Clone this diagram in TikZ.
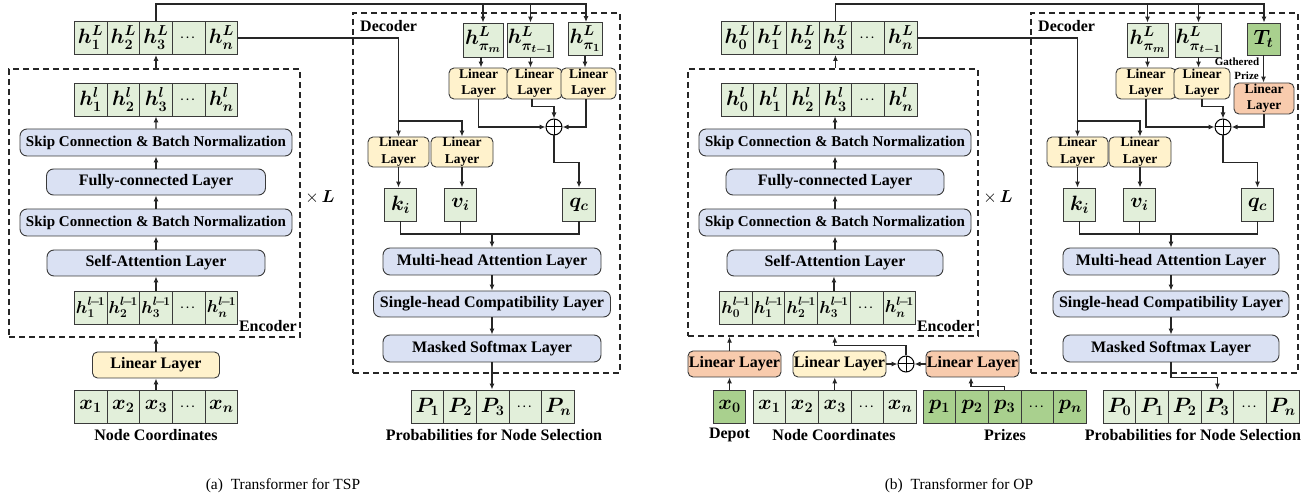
\documentclass[tikz,border=0pt]{standalone}
\usepackage{amsmath}
\usepackage{fontspec}
\setmainfont{Liberation Serif}
\usetikzlibrary{arrows.meta,calc}
\definecolor{cg}{HTML}{E2EFDA}
\definecolor{dg}{HTML}{A9D08E}
\definecolor{bl}{HTML}{DAE1F3}
\definecolor{yl}{HTML}{FFF2CC}
\definecolor{orng}{HTML}{F8CBAD}
\definecolor{bord}{HTML}{3A3A3A}
\newcommand{\mydots}{\mbox{\fontsize{11}{11}\selectfont$\cdots$}}
\newcommand{\lm}{l\!-\!1}
\tikzset{
  cell/.style={draw=bord, fill=cg, line width=0.9pt, minimum width=32.7pt, minimum height=33pt, inner sep=0pt, font=\boldmath\fontsize{21}{21}\selectfont},
  cellm/.style={cell, font=\boldmath\fontsize{18.5}{18.5}\selectfont},
  dcell/.style={cell, fill=dg},
  blk/.style={draw=bord, fill=bl, line width=0.9pt, rounded corners=7pt, inner sep=0pt, minimum height=27pt, font=\bfseries\fontsize{16}{16}\selectfont},
  lin/.style={draw=bord, fill=yl, line width=0.9pt, rounded corners=5pt, inner sep=0pt, align=center, minimum height=31pt, font=\bfseries\fontsize{13.5}{16.5}\selectfont},
  lino/.style={lin, fill=orng},
  linb/.style={lin, minimum height=26pt, minimum width=93pt, font=\bfseries\fontsize{16}{16}\selectfont},
  linbo/.style={linb, fill=orng},
  opl/.style={circle, draw=black, fill=white, line width=1pt, minimum size=16pt, inner sep=0pt,
    path picture={\draw[line width=1pt] (path picture bounding box.north) -- (path picture bounding box.south) (path picture bounding box.west) -- (path picture bounding box.east);}},
  con/.style={draw=black!85, line width=1.1pt},
  arr/.style={con, -{Latex[length=6pt,width=5pt]}},
  dbox/.style={draw=black!85, dash pattern=on 6pt off 4pt, line width=1.5pt, inner sep=0pt},
  lab/.style={font=\bfseries\fontsize{16}{16}\selectfont, inner sep=0pt},
  captxt/.style={font=\fontsize{15.5}{15.5}\selectfont, inner sep=0pt},
}
\begin{document}
\begin{tikzpicture}[x=1pt,y=-1pt]
\useasboundingbox (0,0) rectangle (1315,502);

%%%%%%%%%%%%%%%%%%%% (a) TSP %%%%%%%%%%%%%%%%%%%%
\node[dbox, minimum width=291pt, minimum height=268pt] (aenc) at (154.5,203) {};
\node[dbox, minimum width=267pt, minimum height=360pt] (adec) at (486.5,193) {};
\node[lab, anchor=east] (aenclab) at (297,326) {Encoder};
\node[lab, anchor=west] (adeclab) at (360,26) {Decoder};
\node[inner sep=0pt, font=\fontsize{16}{16}\selectfont] (aL) at (320,197) {$\times\,\boldsymbol{L}$};

\foreach \i/\t in {1/h^L_1,2/h^L_2,3/h^L_3,4/\mydots,5/h^L_n}
  \node[cell] (aL\i) at ({74.25+32.7*(\i-0.5)},38) {$\t$};
\foreach \i/\t in {1/h^l_1,2/h^l_2,3/h^l_3,4/\mydots,5/h^l_n}
  \node[cell] (aLl\i) at ({74.25+32.7*(\i-0.5)},99.5) {$\t$};
\foreach \i/\t in {1/h^{\lm}_1,2/h^{\lm}_2,3/h^{\lm}_3,4/\mydots,5/h^{\lm}_n}
  \node[cellm] (aLm\i) at ({74.25+32.7*(\i-0.5)},307.5) {$\t$};
\foreach \i/\t in {1/x_1,2/x_2,3/x_3,4/\mydots,5/x_n}
  \node[cell] (ax\i) at ({74.25+32.7*(\i-0.5)},406.5) {$\t$};
\foreach \i/\t in {1/P_1,2/P_2,3/P_3,4/\mydots,5/P_n}
  \node[cell] (aP\i) at ({411+32.7*(\i-0.5)},406.5) {$\t$};

\node[blk, minimum width=272pt, font=\bfseries\fontsize{15}{15}\selectfont] (ask1) at (156,142.5) {Skip Connection \& Batch Normalization};
\node[blk, minimum width=219pt, minimum height=26pt] (afc) at (156,182) {Fully-connected Layer};
\node[blk, minimum width=272pt, font=\bfseries\fontsize{15}{15}\selectfont] (ask2) at (156,222.5) {Skip Connection \& Batch Normalization};
\node[blk, minimum width=218pt, minimum height=26pt] (asa) at (156,263) {Self-Attention Layer};
\node[linb, minimum width=127pt] (alin) at (156,365) {Linear Layer};
\node[lab] (anc) at (156,435) {Node Coordinates};

\node[cell, minimum width=40pt, minimum height=34pt] (ahpm) at (483,40) {$h^L_{\pi_m}$};
\node[cell, minimum width=37pt, minimum height=34pt] (ahpt) at (530.5,40) {$h^L_{\pi_{t-1}}$};
\node[cell, minimum width=34pt, minimum height=33pt] (ahp1) at (585,39) {$h^L_{\pi_1}$};
\node[lin, minimum width=59pt] (all1) at (478.5,83.5) {Linear\\Layer};
\node[lin, minimum width=55pt] (all2) at (534.5,83.5) {Linear\\Layer};
\node[lin, minimum width=55pt] (all3) at (588.5,83.5) {Linear\\Layer};
\node[opl] (aop) at (554,127) {};
\node[lin, minimum width=61pt, minimum height=30pt] (aLLa) at (398.5,152) {Linear\\Layer};
\node[lin, minimum width=62pt, minimum height=30pt] (aLLb) at (462,152) {Linear\\Layer};
\node[cell] (ak) at (400.5,204.5) {$k_i$};
\node[cell] (av) at (460.5,204.5) {$v_i$};
\node[cell] (aq) at (579,204.5) {$q_c$};
\node[blk, minimum width=218pt] (amha) at (492,261.5) {Multi-head Attention Layer};
\node[blk, minimum width=237pt, minimum height=26pt] (ash) at (492,304) {Single-head Compatibility Layer};
\node[blk, minimum width=218pt] (ams) at (492,348.5) {Masked Softmax Layer};
\node[lab] (apns) at (494,435) {Probabilities for Node Selection};

% connectors (a)
\draw[arr] (ax3.north) -- (ax3.north |- alin.south);
\draw[arr] (alin.north) -- (alin.north |- aenc.south);
\draw[arr] (aLm3.north) -- (aLm3.north |- asa.south);
\draw[arr] (asa.north) -- (ask2.south);
\draw[arr] (ask2.north) -- (afc.south);
\draw[arr] (afc.north) -- (ask1.south);
\draw[arr] (ask1.north) -- (aLl3.south);
\draw[arr] (aL3.south |- aenc.north) -- (aL3.south);
\coordinate (atop) at (586,4);
\draw[arr] (aL3.north) |- (atop) -- (atop |- ahp1.north);
\draw[arr] (ahpm.north |- atop) -- (ahpm.north);
\draw[arr] (ahpt.north |- atop) -- (ahpt.north);
\draw[arr] (aL5.east) -| (aLLa.north);
\coordinate (abr) at (398.5,121);
\draw[arr] (abr) -| (aLLb.north);
\draw[arr] ([xshift=-2pt]ahpm.south) -- ([xshift=-2pt]ahpm.south |- all1.north);
\draw[arr] (ahpt.south) -- (ahpt.south |- all2.north);
\draw[arr] (ahp1.south) -- (ahp1.south |- all3.north);
\draw[arr] (all1.south) |- (aop.west);
\draw[arr] ([xshift=-2.5pt]all2.south) |- ($(aop.north)+(0,-12)$) -- (aop.north);
\draw[arr] ([xshift=-2.5pt]all3.south) |- (aop.east);
\draw[arr] (aop.south) |- ($(aq.north)+(0,-25)$) -- (aq.north);
\draw[arr] (aLLa.south) -- (aLLa.south |- ak.north);
\draw[arr] (aLLb.south) -- (aLLb.south |- av.north);
\coordinate (ajoin) at (492,234);
\draw[con] (ak.south) |- (ajoin);
\draw[con] (aq.south) |- (ajoin);
\draw[con] (av.south) -- (av.south |- ajoin);
\draw[arr] (ajoin) -- (amha.north);
\draw[arr] (amha.south) -- (ash.north);
\draw[arr] (ash.south) -- (ams.north);
\draw[arr] (ams.south) -- (ams.south |- aP3.north);

%%%%%%%%%%%%%%%%%%%% (b) OP %%%%%%%%%%%%%%%%%%%%
\node[dbox, minimum width=290pt, minimum height=267pt] (benc) at (833,202.5) {};
\node[dbox, minimum width=267pt, minimum height=360pt] (bdec) at (1164.5,193) {};
\node[lab, anchor=east] (benclab) at (975,326) {Encoder};
\node[lab, anchor=west] (bdeclab) at (1038,26) {Decoder};
\node[inner sep=0pt, font=\fontsize{16}{16}\selectfont] (bLx) at (998,197) {$\times\,\boldsymbol{L}$};

\foreach \i/\t in {1/h^L_0,2/h^L_1,3/h^L_2,4/h^L_3,5/\mydots,6/h^L_n}
  \node[cell] (bL\i) at ({721+32.7*(\i-0.5)},38) {$\t$};
\foreach \i/\t in {1/h^l_0,2/h^l_1,3/h^l_2,4/h^l_3,5/\mydots,6/h^l_n}
  \node[cell] (bLl\i) at ({721+32.7*(\i-0.5)},99.5) {$\t$};
\foreach \i/\t in {1/h^{\lm}_0,2/h^{\lm}_1,3/h^{\lm}_2,4/h^{\lm}_3,5/\mydots,6/h^{\lm}_n}
  \node[cellm] (bLm\i) at ({719.5+32.7*(\i-0.5)},307.5) {$\t$};
\foreach \i/\t in {1/x_1,2/x_2,3/x_3,4/\mydots,5/x_n}
  \node[cell] (bx\i) at ({753+32.7*(\i-0.5)},406.5) {$\t$};
\foreach \i/\t in {1/p_1,2/p_2,3/p_3,4/\mydots,5/p_n}
  \node[dcell] (bp\i) at ({923+32.7*(\i-0.5)},406.5) {$\t$};
\foreach \i/\t in {1/P_0,2/P_1,3/P_2,4/P_3,5/\mydots,6/P_n}
  \node[cell] (bP\i) at ({1103+32.7*(\i-0.5)},406.5) {$\t$};
\node[dcell] (bx0) at (729.5,406.5) {$x_0$};

\node[blk, minimum width=272pt, font=\bfseries\fontsize{15}{15}\selectfont] (bsk1) at (835,142.5) {Skip Connection \& Batch Normalization};
\node[blk, minimum width=218pt, minimum height=26pt] (bfc) at (835,182) {Fully-connected Layer};
\node[blk, minimum width=272pt, font=\bfseries\fontsize{15}{15}\selectfont] (bsk2) at (835,222.5) {Skip Connection \& Batch Normalization};
\node[blk, minimum width=216pt, minimum height=26pt] (bsa) at (835,263) {Self-Attention Layer};

\node[linbo] (blld) at (734.5,364) {Linear Layer};
\node[linb] (blln) at (839.5,364) {Linear Layer};
\node[opl] (bop) at (906,364) {};
\node[linbo] (bllp) at (972.5,364) {Linear Layer};
\node[lab] (bdep) at (729.5,435) {Depot};
\node[lab] (bnc) at (834,435) {Node Coordinates};
\node[lab] (bpr) at (1005,435) {Prizes};

\node[cell, minimum width=41pt, minimum height=34pt] (bhpm) at (1147.5,40) {$h^L_{\pi_m}$};
\node[cell, minimum width=37pt, minimum height=34pt] (bhpt) at (1198.5,40) {$h^L_{\pi_{t-1}}$};
\node[dcell, minimum width=33pt, minimum height=32pt] (bT) at (1263.5,39) {$T_t$};
\node[lin, minimum width=60pt] (bll1) at (1146,83.5) {Linear\\Layer};
\node[lin, minimum width=56pt] (bll2) at (1202,83.5) {Linear\\Layer};
\node[lino, minimum width=60pt] (bllT) at (1264,98.5) {Linear\\Layer};
\node[font=\bfseries\fontsize{11}{11}\selectfont, inner sep=0pt] (bgath) at (1237,62) {Gathered};
\node[font=\bfseries\fontsize{11}{11}\selectfont, inner sep=0pt, anchor=east] (bprz) at (1259,76) {Prize};
\node[opl] (bop2) at (1223,127) {};
\node[lin, minimum width=61pt, minimum height=30pt] (bLLa) at (1077.5,152) {Linear\\Layer};
\node[lin, minimum width=62pt, minimum height=30pt] (bLLb) at (1140,152) {Linear\\Layer};
\node[cell] (bk) at (1079.5,204.5) {$k_i$};
\node[cell] (bv) at (1139.5,204.5) {$v_i$};
\node[cell] (bq) at (1257.5,204.5) {$q_c$};
\node[blk, minimum width=216pt] (bmha) at (1171,261.5) {Multi-head Attention Layer};
\node[blk, minimum width=236pt, minimum height=26pt] (bsh) at (1171,304) {Single-head Compatibility Layer};
\node[blk, minimum width=216pt] (bms) at (1171,348.5) {Masked Softmax Layer};
\node[lab] (bpns) at (1193,435) {Probabilities for Node Selection};

% connectors (b)
\draw[arr] (bx0.north) -- (bx0.north |- blld.south);
\draw[arr] (bx0.north |- blld.north) -- (bx0.north |- benc.south);
\draw[arr] (bx3.north) -- (bx3.north |- blln.south);
\draw[arr] (blln.east) -- (bop.west);
\draw[arr] (bllp.west) -- (bop.east);
\draw[arr] (bop.north) |- ($(bx3.north |- bop.north)+(0,-10)$) -- (bx3.north |- benc.south);
\draw[arr] (bp3.north) |- ($(bllp.south)+(-1.5,9)$) -- ([xshift=-1.5pt]bllp.south);
\draw[arr] (bLm4.north) -- (bLm4.north |- bsa.south);
\draw[arr] (bsa.north) -- (bsk2.south);
\draw[arr] (bsk2.north) -- (bfc.south);
\draw[arr] (bfc.north) -- (bsk1.south);
\draw[arr] (bsk1.north) -- (bsk1.north |- bLl4.south);
\draw[arr] (bL4.south |- benc.north) -- (bL4.south);
\coordinate (btop) at (1264,4);
\draw[arr] (bL4.north) |- (btop) -- (btop |- bT.north);
\draw[arr] (bhpm.north |- btop) -- (bhpm.north);
\draw[arr] (bhpt.north |- btop) -- (bhpt.north);
\draw[arr] (bL6.east) -| (bLLa.north);
\coordinate (bbr) at (1077.5,121);
\draw[arr] (bbr) -| (bLLb.north);
\draw[arr] (bhpm.south) -- (bhpm.south |- bll1.north);
\draw[arr] (bhpt.south) -- (bhpt.south |- bll2.north);
\draw[arr] (bT.south) -- (bT.south |- bllT.north);
\draw[arr] (bll1.south) |- (bop2.west);
\draw[arr] (bll2.south) |- ($(bop2.north)+(0,-12)$) -- (bop2.north);
\draw[arr] (bllT.south) |- (bop2.east);
\draw[arr] (bop2.south) |- ($(bq.north)+(0,-25)$) -- (bq.north);
\draw[arr] (bLLa.south) -- (bLLa.south |- bk.north);
\draw[arr] (bLLb.south) -- (bLLb.south |- bv.north);
\coordinate (bjoin) at (1171,234);
\draw[con] (bk.south) |- (bjoin);
\draw[con] (bq.south) |- (bjoin);
\draw[con] (bv.south) -- (bv.south |- bjoin);
\draw[arr] (bjoin) -- (bmha.north);
\draw[arr] (bmha.south) -- (bsh.north);
\draw[arr] (bsh.south) -- (bms.north);
\draw[arr] (bms.south) |- ($(bP4.north)+(0,-12)$) -- (bP4.north);

%%%% captions
\node[captxt] (capa) at (283,486) {(a)\enspace Transformer for TSP};
\node[captxt] (capb) at (959,486) {(b)\enspace Transformer for OP};
\end{tikzpicture}
\end{document}
